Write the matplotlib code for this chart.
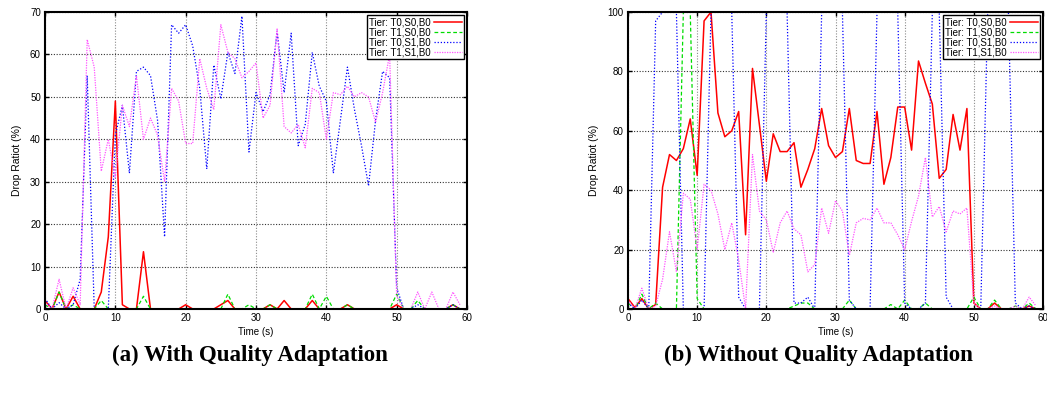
import matplotlib
matplotlib.use("Agg")
import matplotlib.pyplot as plt

time_s = list(range(60))

# (a) with quality adaptation
a_t0s0 = [2, 0, 4, 0, 3, 0, 0, 0, 4, 17, 49, 1, 0, 0, 13.5, 0, 0, 0, 0, 0,
          1, 0, 0, 0, 0, 1, 2, 0, 0, 0, 0, 0, 1, 0, 2, 0, 0, 0, 2, 0,
          0, 0, 0, 1, 0, 0, 0, 0, 0, 0, 1, 0, 0, 0, 0, 0, 0, 0, 1, 0]
a_t1s0 = [1, 0, 4, 0, 1, 0, 0, 0, 2, 0, 0, 0, 0, 0, 3, 0, 0, 0, 0, 0,
          0, 0, 0, 0, 0, 0, 3.5, 0, 0, 1, 0, 0, 1, 0, 0, 0, 0, 0, 3.5, 0,
          3, 0, 0, 1, 0, 0, 0, 0, 0, 0, 3.5, 0, 0, 2, 0, 0, 0, 0, 1, 0]
a_t0s1 = [2.5, 0, 1.5, 0, 1, 7, 55, 0, 0, 0, 41, 48, 32, 56, 57, 55, 44.5, 17, 67, 65,
          67, 62, 52, 33, 57.5, 49.5, 60.5, 55.5, 69, 37, 51, 46.5, 50.5, 65.5, 51, 65, 38.5, 43.5, 60.5, 52.5,
          49, 32, 44.5, 57, 47, 38.5, 29, 44.5, 56, 54.5, 5, 0, 0, 1, 0, 0, 0, 0, 1, 0]
a_t1s1 = [1.5, 0, 7, 0, 5, 1, 63.5, 57, 32.5, 40, 31, 48, 43, 55, 40, 45, 41, 30, 52, 49,
          39, 39, 59, 52, 47, 67, 60.5, 59, 54.5, 56, 58, 45, 48, 66, 43, 41.5, 43.5, 38, 52, 51,
          40, 51, 50.5, 52.5, 50, 51, 50, 44, 51, 60, 3, 0, 0, 4, 0, 4, 0, 0, 4, 1]

# (b) without quality adaptation
b_t0s0 = [3.5, 0.5, 3.5, 0, 1.5, 41, 52, 50, 54, 64, 45, 97, 100, 66, 58, 60, 66.5, 25, 81, 62,
          43, 59, 53, 53, 56, 41, 47, 54, 67.5, 55, 51, 53, 67.5, 50, 49, 49, 66.5, 42, 51, 68,
          68, 53.5, 83.5, 76, 69, 44, 47, 65.5, 53.5, 67.5, 2, 0, 0, 2, 0, 0, 0, 0, 1, 0]
b_t1s0 = [2, 0, 5, 0, 2, 0, 0, 0, 100, 100, 3.5, 0, 0, 0, 0, 0, 0, 0, 0, 0,
          0, 0, 0, 0, 1, 2, 2, 0, 0, 0, 0, 0, 3, 0, 0, 0, 0, 0, 1.5, 0,
          3, 0, 0, 2, 0, 0, 0, 0, 0, 0, 4, 0, 0, 3, 0, 0, 1, 0, 2, 0]
b_t0s1 = [2, 0, 3, 0, 97, 100, 100, 100, 0, 0, 0, 0, 100, 100, 100, 100, 4, 0, 0, 0,
          100, 100, 100, 100, 2, 2, 4, 0, 100, 100, 100, 100, 3, 0, 0, 0, 100, 100, 100, 100,
          2, 0, 0, 2, 100, 100, 4, 0, 0, 0, 0, 0, 100, 100, 100, 100, 2, 0, 1, 0]
b_t1s1 = [3, 0, 7, 0, 1, 10, 26, 12.5, 39, 37, 20, 42, 40, 32, 20, 29, 16.5, 0, 52, 33,
          30, 19, 29, 33, 27, 25, 12.5, 15, 34, 25.5, 36.5, 33, 18, 29, 30.5, 30, 34, 29, 29, 25,
          20, 29.5, 38, 51, 31, 34.5, 26, 33, 32, 34, 2, 0, 0, 1, 0, 0, 1, 0, 4, 1]

labels = ["Tier: T0,S0,B0", "Tier: T1,S0,B0", "Tier: T0,S1,B0", "Tier: T1,S1,B0"]
captions = ["(a) With Quality Adaptation", "(b) Without Quality Adaptation"]

SANS = ["Liberation Sans", "DejaVu Sans"]
plt.rcParams["font.family"] = SANS

styles = [
    dict(color="#ff0000", lw=1.1, ls="-"),
    dict(color="#00dd00", lw=0.9, ls=(0, (3, 2))),
    dict(color="#0000ff", lw=0.9, ls=(0, (1, 1.5))),
    dict(color="#ff55ff", lw=0.9, ls=(0, (1, 1))),
]


def draw(ax, series, ymax, ystep):
    for vals, lab, st in zip(series, labels, styles):
        ax.plot(time_s, vals, label=lab, **st)
    ax.set_xlim(0, 60)
    ax.set_ylim(0, ymax)
    ax.set_xticks(range(0, 61, 10))
    ax.set_yticks(range(0, ymax + 1, ystep))
    ax.grid(axis="y", color="0.2", ls=(0, (1, 1.5)), lw=0.8)
    ax.grid(axis="x", color="0.55", ls=(0, (1, 1.5)), lw=0.8)
    ax.set_axisbelow(True)
    ax.tick_params(direction="in", top=True, right=True, length=3, width=1,
                   labelsize=7, pad=3)
    for sp in ax.spines.values():
        sp.set_linewidth(1.5)
    ax.set_xlabel("Time (s)", fontsize=7, labelpad=3)
    ax.set_ylabel("Drop Ratiot (%)", fontsize=7.5, labelpad=6)
    leg = ax.legend(loc="upper right", fontsize=7, markerfirst=False,
                    fancybox=False, framealpha=1, edgecolor="black",
                    borderpad=0.2, labelspacing=0.0, handlelength=2.8,
                    handletextpad=0.4, borderaxespad=0.35)
    leg.get_frame().set_linewidth(1.0)


fig = plt.figure(figsize=(10.47, 3.96), dpi=100)
ax1 = fig.add_axes([45 / 1047, 87 / 396, 422 / 1047, 297 / 396])
ax2 = fig.add_axes([628 / 1047, 87 / 396, 415 / 1047, 297 / 396])

draw(ax1, [a_t0s0, a_t1s0, a_t0s1, a_t1s1], 70, 10)
draw(ax2, [b_t0s0, b_t1s0, b_t0s1, b_t1s1], 100, 20)

fig.text(250 / 1047, 1 - 355 / 396, captions[0], ha="center", va="center",
         fontsize=16.5, fontweight="bold", family="Liberation Serif")
fig.text(818 / 1047, 1 - 355 / 396, captions[1], ha="center", va="center",
         fontsize=16.5, fontweight="bold", family="Liberation Serif")

fig.savefig("out.png", dpi=100)
